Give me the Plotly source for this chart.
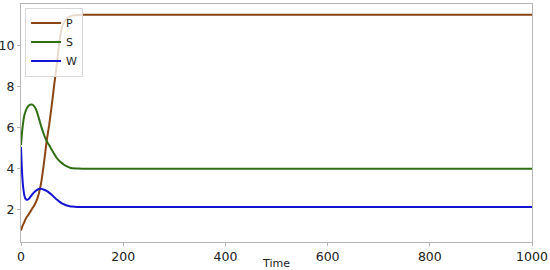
import plotly.graph_objects as go

time = [0, 1, 2, 3, 4, 5, 6, 7, 8, 10, 12, 15, 18, 20, 22, 25, 28, 30, 35, 40,
        45, 50, 55, 60, 65, 70, 75, 80, 85, 90, 95, 100, 110, 120, 140, 170,
        200, 300, 500, 1000]

P = [1.00, 1.08, 1.15, 1.22, 1.28, 1.33, 1.38, 1.44, 1.50, 1.60, 1.68, 1.78,
     1.90, 1.98, 2.07, 2.18, 2.32, 2.42, 2.80, 3.40, 4.30, 5.30, 6.10, 7.05,
     8.08, 9.05, 10.15, 10.85, 11.15, 11.30, 11.38, 11.43, 11.47, 11.48,
     11.48, 11.48, 11.48, 11.48, 11.48, 11.48]

S = [5.15, 5.45, 5.75, 6.00, 6.20, 6.38, 6.52, 6.63, 6.72, 6.86, 6.96, 7.06,
     7.11, 7.12, 7.11, 7.05, 6.95, 6.85, 6.45, 6.02, 5.65, 5.35, 5.15, 4.92,
     4.72, 4.52, 4.38, 4.27, 4.18, 4.11, 4.05, 4.02, 4.01, 4.00, 4.00, 4.00,
     4.00, 4.00, 4.00, 4.00]

W = [5.05, 4.40, 3.85, 3.45, 3.15, 2.95, 2.78, 2.66, 2.58, 2.51, 2.49, 2.53,
     2.62, 2.68, 2.75, 2.84, 2.91, 2.95, 3.01, 3.02, 2.98, 2.92, 2.84, 2.74,
     2.62, 2.50, 2.40, 2.32, 2.26, 2.21, 2.18, 2.16, 2.14, 2.14, 2.14, 2.14,
     2.14, 2.14, 2.14, 2.14]

x_ticks = [0, 200, 400, 600, 800, 1000]
y_ticks = [2, 4, 6, 8, 10]

series = [("P", P, "#8B4513"), ("S", S, "#2f6f14"), ("W", W, "#1414d2")]

fig = go.Figure()
for name, vals, col in series:
    fig.add_trace(go.Scatter(x=time, y=vals, mode="lines", name=name,
                             line=dict(color=col, width=2, shape="spline",
                                       smoothing=0.6)))

axis_common = dict(showline=True, linecolor="#b5b5b5", linewidth=1, mirror=True,
                   showgrid=False, zeroline=False, ticks="outside", ticklen=3,
                   tickcolor="#b5b5b5", automargin=False,
                   tickfont=dict(family="DejaVu Sans", size=12.5, color="#222"))

fig.update_xaxes(range=[0, 1000], tickvals=x_ticks,
                 title=dict(text="Time", font=dict(family="DejaVu Sans", size=11,
                                                   color="#222"), standoff=0),
                 **axis_common)
fig.update_yaxes(range=[0.44, 12.0], tickvals=y_ticks, **axis_common)

fig.update_layout(
    width=550, height=270,
    margin=dict(l=21, r=18, t=4, b=28),
    paper_bgcolor="white", plot_bgcolor="white",
    showlegend=True,
    legend=dict(x=0.008, y=0.985, xanchor="left", yanchor="top",
                bgcolor="rgba(255,255,255,0.8)", bordercolor="#d8d8d8",
                borderwidth=1, font=dict(family="DejaVu Sans", size=11, color="#222"),
                tracegroupgap=0),
)

fig.write_html("out.html", config={"displayModeBar": False},
               post_script="document.body.style.margin='0px';document.body.style.padding='0px';")
